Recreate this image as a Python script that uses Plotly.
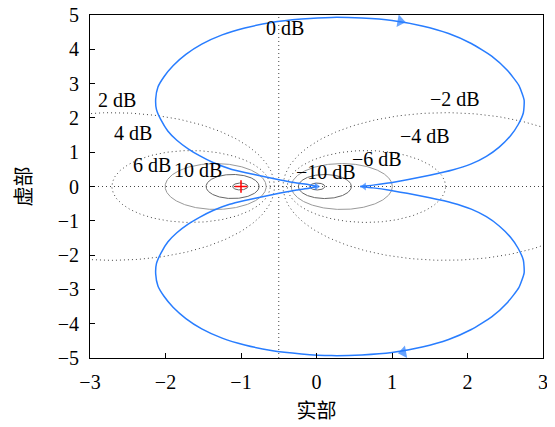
import numpy as np
import plotly.graph_objects as go

# Nyquist curve, positive frequencies
re_pos = [0.0, -0.10, -0.26, -0.48, -0.70, -0.95, -1.15, -1.37, -1.55, -1.70, -1.85, -1.97, -2.06,
          -2.12, -2.13, -2.10, -2.02, -1.90, -1.73, -1.52, -1.25, -0.95, -0.60, -0.20, 0.20,
          0.60, 1.00, 1.40, 1.75, 2.05, 2.32, 2.53, 2.68, 2.75, 2.74, 2.67, 2.57, 2.42, 2.25,
          2.05, 1.80, 1.50, 1.20, 0.95, 0.75, 0.58]
im_pos = [0.0, 0.05, 0.10, 0.19, 0.29, 0.41, 0.52, 0.70, 0.90, 1.10, 1.35, 1.62, 1.94,
          2.25, 2.55, 2.90, 3.20, 3.52, 3.85, 4.15, 4.42, 4.62, 4.78, 4.88, 4.93,
          4.91, 4.84, 4.68, 4.46, 4.17, 3.80, 3.38, 2.95, 2.52, 2.15, 1.80, 1.48, 1.15, 0.88,
          0.66, 0.48, 0.33, 0.20, 0.10, 0.04, 0.0]
# negative frequencies: mirror image
re_neg = re_pos
im_neg = [-v for v in im_pos]

# M-circle levels (dB)
m_db = [-20, -10, -6, -4, -2, 2, 4, 6, 10, 20]
label_db = ["0 dB", "2 dB", "\u22122 dB", "4 dB", "\u22124 dB", "6 dB", "\u22126 dB", "10 dB", "\u221210 dB"]
label_x = [-0.42, -2.64, 1.83, -2.43, 1.44, -2.18, 0.80, -1.57, 0.12]
label_y = [4.62, 2.52, 2.55, 1.56, 1.47, 0.63, 0.80, 0.48, 0.42]

# arrow positions on the curve
arrow_x = [1.11, 1.15, 0.0, 0.63]
arrow_y = [4.82, -4.83, 0.0, 0.0]
arrow_angle = [100, 260, 90, 270]

blue = "rgb(40,125,255)"
serif = "Liberation Serif, Times New Roman, serif"
dotted = "1px,3px"
fig = go.Figure()

# grid: real axis
fig.add_trace(go.Scatter(x=[-3, 3], y=[0, 0], mode="lines",
                         line=dict(color="#444", width=1, dash=dotted), hoverinfo="skip"))
# 0 dB line
fig.add_trace(go.Scatter(x=[-0.5, -0.5], y=[-5, 5], mode="lines",
                         line=dict(color="#444", width=1, dash=dotted), hoverinfo="skip"))
t = np.linspace(0, 2 * np.pi, 400)
for db in m_db:
    M = 10 ** (db / 20)
    c = -M * M / (M * M - 1)
    r = abs(M / (M * M - 1))
    if abs(db) >= 10:
        ln = dict(color="#666", width=1)
    elif abs(db) == 6:
        ln = dict(color="#999", width=1)
    else:
        ln = dict(color="#444", width=1, dash=dotted)
    fig.add_trace(go.Scatter(x=c + r * np.cos(t), y=r * np.sin(t), mode="lines",
                             line=ln, hoverinfo="skip"))

# critical point
fig.add_trace(go.Scatter(x=[-1], y=[0], mode="markers",
                         marker=dict(symbol="cross-thin", size=9, line=dict(color="red", width=1.5))))

# Nyquist curve
fig.add_trace(go.Scatter(x=re_pos, y=im_pos, mode="lines",
                         line=dict(color=blue, width=1.5, shape="spline", smoothing=0.5)))
fig.add_trace(go.Scatter(x=re_neg, y=im_neg, mode="lines",
                         line=dict(color=blue, width=1.5, shape="spline", smoothing=0.5)))
fig.add_trace(go.Scatter(x=arrow_x, y=arrow_y, mode="markers",
                         marker=dict(symbol="triangle-up", size=[11, 11, 7, 7], angle=arrow_angle,
                                     color=blue, line=dict(width=0))))

for txt, lx, ly in zip(label_db, label_x, label_y):
    fig.add_annotation(x=lx, y=ly, text=txt, showarrow=False,
                       font=dict(family=serif, size=20, color="black"))

axis_common = dict(showgrid=False, zeroline=False, showline=True, linecolor="black", linewidth=1,
                   mirror=True, ticks="inside", ticklen=5, tickcolor="black", automargin=False,
                   ticklabeloverflow="allow",
                   tickfont=dict(family=serif, size=20, color="black"))
fig.update_xaxes(range=[-3, 3], tickvals=[-3, -2, -1, 0, 1, 2, 3], ticklabelstandoff=6,
                 title=dict(text="实部", font=dict(family="Noto Sans CJK SC", size=20, color="black"),
                            standoff=11), **axis_common)
fig.update_yaxes(range=[-5, 5], tickvals=list(range(-5, 6)), ticklabelstandoff=6,
                 title=dict(text="虚部", font=dict(family="Noto Sans CJK SC", size=20, color="black"),
                            standoff=22), **axis_common)
# page body adds an 8px margin, so the figure is sized/placed to land on the reference pixels
fig.update_layout(width=547, height=419, margin=dict(l=82, r=12, t=7, b=69),
                  plot_bgcolor="white", paper_bgcolor="white", showlegend=False)
fig.write_html("out.html")
